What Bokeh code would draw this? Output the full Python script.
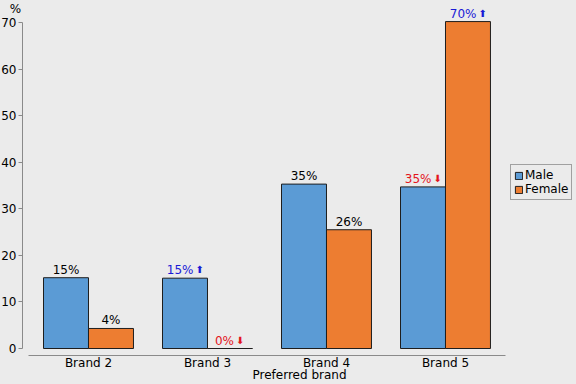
from bokeh.plotting import figure
from bokeh.models import ColumnDataSource, Range1d, FixedTicker, Legend, LegendItem
from bokeh.transform import dodge
from bokeh.core.properties import value
from bokeh.embed import file_html
from bokeh.resources import INLINE

brands = ["Brand 2", "Brand 3", "Brand 4", "Brand 5"]
male = [15.2, 15.1, 35.3, 34.7]
female = [4.3, 0.0, 25.5, 70.2]
male_labels = ["15%", "15%", "35%", "35%"]
female_labels = ["4%", "0%", "26%", "70%"]
male_arrows = ["", "⬆", "", "⬇"]
female_arrows = ["", "⬇", "", "⬆"]
y_ticks = [0, 10, 20, 30, 40, 50, 60, 70]

BG = "#ebebeb"
BLUE = "#5b9bd5"
ORANGE = "#ed7d31"
FONT = "DejaVu Sans"
ARROW_COLORS = {"": "#000000", "⬆": "#1a1ad6", "⬇": "#e3141c"}

xs = list(range(1, len(brands) + 1))
src = ColumnDataSource(dict(x=xs, male=male, female=female))

X0, X1 = 0.4454, 5.101
Y0, Y1 = -1.503, 73.006
p = figure(width=576, height=384, output_backend="svg", toolbar_location=None,
           x_range=Range1d(X0, X1), y_range=Range1d(Y0, Y1),
           min_border_left=22, min_border_right=0, min_border_top=8, min_border_bottom=29,
           background_fill_color=BG, border_fill_color=BG, outline_line_color=None)
p.grid.visible = False

bw = 0.378
rm = p.vbar(x=dodge("x", -bw / 2, range=p.x_range), top="male", width=bw, source=src,
            fill_color=BLUE, line_color="#1e1e1e", line_width=1)
rf = p.vbar(x=dodge("x", bw / 2, range=p.x_range), top="female", width=bw, source=src,
            fill_color=ORANGE, line_color="#1e1e1e", line_width=1)

# value labels
plain = dict(x=[], y=[], t=[])
arr_num = dict(x=[], y=[], t=[], c=[], off=[])
arr_sym = dict(x=[], y=[], t=[], c=[], off=[])
for vals, labs, arrows, shift in ((male, male_labels, male_arrows, -bw / 2),
                                  (female, female_labels, female_arrows, bw / 2)):
    for i, (v, lab, a) in enumerate(zip(vals, labs, arrows)):
        xc = xs[i] + shift
        if a == "":
            plain["x"].append(xc); plain["y"].append(v); plain["t"].append(lab)
        else:
            edge = 4.5 * len(lab) - 5
            arr_num["x"].append(xc); arr_num["y"].append(v); arr_num["t"].append(lab)
            arr_num["c"].append(ARROW_COLORS[a]); arr_num["off"].append(edge)
            arr_sym["x"].append(xc); arr_sym["y"].append(v); arr_sym["t"].append(a)
            arr_sym["c"].append(ARROW_COLORS[a]); arr_sym["off"].append(edge + 2)

p.text(x="x", y="y", text="t", source=ColumnDataSource(plain), text_align="center",
       text_baseline="bottom", y_offset=-1, text_font=value(FONT), text_font_size="12px",
       text_color="#000000")
p.text(x="x", y="y", text="t", source=ColumnDataSource(arr_num), text_align="right",
       text_baseline="bottom", x_offset="off", y_offset=-1, text_font=value(FONT),
       text_font_size="12px", text_color="c")
p.text(x="x", y="y", text="t", source=ColumnDataSource(arr_sym), text_align="left",
       text_baseline="bottom", x_offset="off", y_offset=-3, text_font=value(FONT),
       text_font_size="10px", text_color="c")

# axes
ya = p.yaxis[0]
ya.ticker = FixedTicker(ticks=y_ticks)
ya.bounds = (0, 70)
ya.axis_line_color = "#8a8a8a"
ya.major_tick_line_color = "#8a8a8a"
ya.major_tick_out = 4
ya.major_tick_in = 0
ya.minor_tick_line_color = None
ya.major_label_standoff = 2
ya.major_label_text_font = FONT
ya.major_label_text_font_size = "12px"
ya.major_label_text_color = "#000000"
ya.axis_label = "%"
ya.axis_label_orientation = "horizontal"
ya.axis_label_align = "end"
ya.axis_label_standoff = -23
ya.axis_label_text_font = FONT
ya.axis_label_text_font_size = "12px"
ya.axis_label_text_font_style = "normal"
ya.axis_label_text_color = "#000000"

xa = p.xaxis[0]
xa.ticker = FixedTicker(ticks=xs)
xa.bounds = (0.496, 4.504)
xa.major_label_overrides = {x: b for x, b in zip(xs, brands)}
xa.axis_line_color = "#8a8a8a"
xa.major_tick_line_color = None
xa.major_tick_out = 0
xa.major_tick_in = 0
xa.minor_tick_line_color = None
xa.minor_tick_out = 0
xa.major_label_standoff = 0
xa.major_label_text_font = FONT
xa.major_label_text_font_size = "12px"
xa.major_label_text_color = "#000000"
xa.axis_label = "Preferred brand"
xa.axis_label_standoff = -5
xa.axis_label_text_font = FONT
xa.axis_label_text_font_size = "12px"
xa.axis_label_text_font_style = "normal"
xa.axis_label_text_color = "#000000"

legend = Legend(items=[LegendItem(label="Male", renderers=[rm]),
                       LegendItem(label="Female", renderers=[rf])],
                location=(488, 155), orientation="vertical")
legend.label_text_font = FONT
legend.label_text_font_size = "12px"
legend.label_text_color = "#000000"
legend.label_height = 13
legend.glyph_width = 9
legend.glyph_height = 9
legend.label_standoff = 2
legend.spacing = 0
legend.padding = 3
legend.margin = 0
legend.border_line_color = "#555555"
legend.background_fill_color = BG
legend.background_fill_alpha = 1.0
p.add_layout(legend)

html = file_html(p, INLINE)
html = html.replace("<head>", "<head><style>body{background:#ebebeb;}</style>", 1)
open("out.html", "w").write(html)
